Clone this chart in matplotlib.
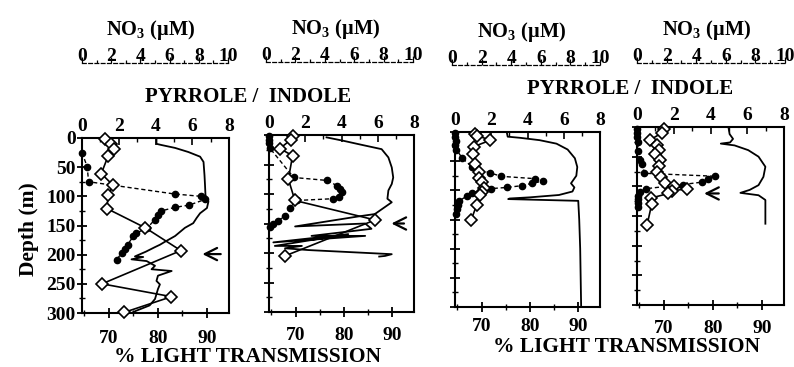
import matplotlib
matplotlib.use("Agg")
import matplotlib.pyplot as plt
from matplotlib.ticker import MultipleLocator

plt.rcParams['font.family'] = ['Liberation Serif', 'DejaVu Serif']
plt.rcParams['font.weight'] = 'bold'
plt.rcParams['mathtext.fontset'] = 'custom'
plt.rcParams['mathtext.rm'] = 'Liberation Serif:bold'
plt.rcParams['mathtext.bf'] = 'Liberation Serif:bold'

# ---- data, one set per station (depth in m) ----
# pyrrole / indole ratio (open diamonds, solid line)
ratio_depth = [
    [1, 10, 18, 31, 61, 81, 98, 121, 154, 193, 250, 272, 299],
    [2, 8, 23, 35, 75, 111, 144, 205],
    [3, 6, 14, 25, 37, 54, 68, 78, 85, 96, 102, 108, 125, 150],
    [3, 10, 22, 30, 38, 46, 55, 65, 75, 85, 95, 100, 104, 108, 112, 120, 130, 165],
]
ratio_vals = [
    [1.27, 1.6, 1.75, 1.42, 1.05, 1.69, 1.42, 1.36, 3.45, 5.38, 1.09, 4.87, 2.29],
    [1.35, 1.2, 0.6, 1.3, 1.07, 1.43, 5.85, 0.88],
    [1.1, 1.2, 1.95, 1.05, 1.0, 1.1, 1.3, 1.35, 1.5, 1.6, 1.5, 1.4, 1.2, 0.9],
    [1.45, 1.35, 0.7, 1.1, 1.2, 1.0, 1.25, 1.2, 1.1, 1.3, 1.5, 2.0, 2.7, 1.9, 1.7, 0.75, 0.8, 0.55],
]

# nitrate (filled circles, dashed line)
no3_depth = [
    [25, 49, 75, 96, 100, 105, 115, 119, 125, 132, 140, 154, 163, 168, 183, 191, 197, 209],
    [2, 8, 14, 22, 72, 77, 86, 92, 97, 105, 108, 111, 123, 137, 145, 151, 156],
    [2, 8, 15, 22, 30, 45, 60, 70, 76, 80, 84, 88, 92, 95, 97, 100, 105, 110, 118, 125, 132, 140],
    [3, 10, 17, 25, 40, 55, 63, 78, 83, 88, 93, 97, 104, 110, 116, 122, 128, 135],
]
no3_vals = [
    [0, 0.35, 0.45, 6.3, 8.1, 8.4, 7.3, 6.3, 5.4, 5.2, 4.95, 4.45, 3.7, 3.5, 3.1, 2.9, 2.7, 2.35],
    [0, 0, 0, 0.05, 1.7, 4.0, 4.7, 4.9, 5.0, 4.8, 4.4, 1.9, 1.45, 1.1, 0.65, 0.3, 0.07],
    [0, 0, 0.05, 0, 0.1, 0.5, 1.2, 2.4, 3.2, 5.5, 6.1, 5.3, 4.6, 3.6, 2.5, 1.8, 1.2, 0.8, 0.3, 0.2, 0.15, 0.1],
    [0, 0, 0, 0.05, 0.1, 0.2, 0.35, 0.5, 5.3, 4.8, 4.4, 3.1, 0.6, 0.2, 0.1, 0.1, 0.05, 0.05],
]

# % light transmission (plain solid line)
trans_depth = [
    [0, 10, 12, 17, 24, 32, 41, 64, 80, 98, 109, 120, 129, 137, 146, 154, 168, 178, 183, 187,
     195, 203, 204, 208, 211, 219, 225, 228, 236, 245, 251, 259, 276, 287, 296, 300],
    [4, 10, 16, 24, 38, 55, 72, 83, 94, 108, 114, 134, 138, 155, 150, 159, 171, 171, 182, 168,
     188, 188, 192, 195, 202, 205, 206],
    [0, 8, 10, 14, 20, 30, 45, 60, 75, 88, 95, 102, 108, 112, 114, 115, 118, 150, 200, 250, 300],
    [2, 12, 20, 26, 28, 31, 39, 50, 67, 84, 98, 106, 111, 115, 123, 163],
]
trans_vals = [
    [79.7, 79.7, 80.7, 83.5, 86.2, 88.6, 89.3, 89.5, 89.6, 89.7, 90.3, 90.0, 88.6, 87.9, 87.2, 85.5,
     83.5, 81.4, 80.4, 79.4, 77.5, 75.3, 77.0, 74.6, 77.7, 79.4, 78.7, 82.8, 80.0, 79.7, 80.4, 80.0,
     79.4, 78.3, 75.6, 74.6],
    [76.4, 80, 83.3, 87.8, 89.2, 89.9, 90.2, 89.9, 89.2, 89.0, 89.9, 86.4, 83.0, 69.9, 84.4, 85.7,
     73.3, 84.4, 65.4, 80.9, 65.7, 71.3, 67.8, 72.6, 89.9, 88.5, 87.3],
    [75.2, 75.4, 78, 82, 85.5, 87.8, 89.3, 89.8, 89.6, 88.5, 89.2, 88.8, 86, 80, 75.8, 75.5, 90.0,
     90.2, 90.4, 90.5, 90.6],
    [83.2, 83.4, 84.1, 83.5, 81.6, 84.4, 87.2, 89.3, 90.7, 90.3, 89.3, 87.5, 85.6, 89.3, 90.7, 90.7],
]

# arrows marking the feature depth: (depth, tail ratio, head ratio), None = no arrow
arrows = [(199, 7.7, 6.4), (150, 7.6, 6.6), None, (112, 4.6, 3.5)]

W, H = 794, 367
# plot boxes in pixels: left, right, top, bottom (the scan is slightly tilted)
boxes = [(82, 229, 138, 313), (269, 414, 135, 312), (455, 600, 132, 307), (637, 784, 127, 305)]
# nitrate scale bars: left, right, y
no3_bars = [(82, 228, 63), (266, 413, 62), (452, 600, 65), (637, 785, 63)]
# gap under each bottom scale (points)
bottom_pad = [9, 7, 4.5, 7]

fig = plt.figure(figsize=(W / 100, H / 100), dpi=100)

def fx(px):
    return px / W

def fy(py):
    return 1 - py / H

tick_fs = 14
for i in range(4):
    l, r, t, b = boxes[i]
    ax = fig.add_axes([fx(l), fy(b), fx(r) - fx(l), fy(t) - fy(b)])
    axt = ax.twiny()   # light transmission
    axn = ax.twiny()   # nitrate, hidden scale
    axr = ax.twiny()   # ratio, drawn on top

    # pyrrole / indole scale on top
    ax.set_xlim(0, 8)
    ax.set_ylim(300, 0)
    ax.xaxis.tick_top()
    ax.xaxis.set_major_locator(MultipleLocator(2))
    ax.xaxis.set_minor_locator(MultipleLocator(1))
    ax.yaxis.set_major_locator(MultipleLocator(50))
    ax.yaxis.set_minor_locator(MultipleLocator(25))
    ax.tick_params(axis='x', which='both', direction='in', labelsize=tick_fs, pad=2,
                   bottom=False, labelbottom=False, top=True, labeltop=True)
    ax.tick_params(axis='x', which='major', length=5, width=1.2)
    ax.tick_params(axis='x', which='minor', length=3, width=1)
    ax.tick_params(axis='y', which='both', direction='inout', labelsize=tick_fs, pad=1,
                   right=False)
    ax.tick_params(axis='y', which='major', length=7, width=1.3)
    ax.tick_params(axis='y', which='minor', length=5, width=1)
    if i > 0:
        ax.tick_params(axis='y', labelleft=False)
    for s in ax.spines.values():
        s.set_linewidth(1.5)

    # light transmission scale at bottom
    axt.set_xlim(64.5, 94.5)
    axt.xaxis.set_major_locator(MultipleLocator(10))
    axt.xaxis.set_minor_locator(MultipleLocator(5))
    axt.tick_params(axis='x', which='both', direction='inout', labelsize=tick_fs,
                    pad=bottom_pad[i], top=False, labeltop=False, bottom=True,
                    labelbottom=True)
    axt.tick_params(axis='x', which='major', length=7, width=1.3)
    axt.tick_params(axis='x', which='minor', length=5, width=1)
    for s in axt.spines.values():
        s.set_visible(False)
    axt.plot(trans_vals[i], trans_depth[i], color='black', lw=1.3, zorder=2)

    axn.set_xlim(0, 10)
    axn.axis('off')
    axn.plot(no3_vals[i], no3_depth[i], color='black', lw=1.0, ls=(0, (3, 2)),
             marker='o', ms=4.5, zorder=3, clip_on=False)

    axr.set_xlim(0, 8)
    axr.axis('off')
    axr.plot(ratio_vals[i], ratio_depth[i], color='black', lw=1.2, marker='D', ms=6.5,
             mfc='white', mec='black', mew=1.2, zorder=4, clip_on=False)

    if arrows[i] is not None:
        d, x0, x1 = arrows[i]
        axr.annotate('', xy=(x1, d), xytext=(x0, d),
                     arrowprops=dict(arrowstyle='->', lw=1.6, color='black',
                                     mutation_scale=22))

    # nitrate scale bar above each panel
    nl, nr, ny = no3_bars[i]
    axb = fig.add_axes([fx(nl), fy(ny), fx(nr) - fx(nl), 0.001])
    axb.set_xlim(0, 10)
    axb.set_yticks([])
    for k in ['top', 'left', 'right']:
        axb.spines[k].set_visible(False)
    axb.spines['bottom'].set_linestyle((0, (3, 2)))
    axb.spines['bottom'].set_linewidth(0.9)
    axb.xaxis.set_major_locator(MultipleLocator(2))
    axb.xaxis.set_minor_locator(MultipleLocator(1))
    axb.tick_params(axis='x', which='both', direction='in', bottom=True, top=False,
                    labelbottom=False, labeltop=True, labelsize=tick_fs, pad=-1.5)
    axb.tick_params(axis='x', which='major', length=4, width=0.9)
    axb.tick_params(axis='x', which='minor', length=2.5, width=0.9)
    fig.text(fx((nl + nr) / 2 - 4), fy(ny - 33), 'NO$_\\mathbf{3}$ (\u00b5M)',
             ha='center', va='center', fontsize=14.7, fontweight='bold')

lab_fs = 15
fig.text(fx(248), fy(97), 'PYRROLE /  INDOLE', ha='center', va='center',
         fontsize=lab_fs, fontweight='bold')
fig.text(fx(630), fy(89), 'PYRROLE /  INDOLE', ha='center', va='center',
         fontsize=lab_fs, fontweight='bold')
fig.text(fx(248), fy(357), '% LIGHT TRANSMISSION', ha='center', va='center',
         fontsize=15.5, fontweight='bold')
fig.text(fx(627), fy(347), '% LIGHT TRANSMISSION', ha='center', va='center',
         fontsize=15.5, fontweight='bold')
fig.text(fx(29), fy(229), 'Depth (m)', ha='center', va='center', rotation=90,
         fontsize=15.5, fontweight='bold')

fig.savefig('out.png', dpi=100)
